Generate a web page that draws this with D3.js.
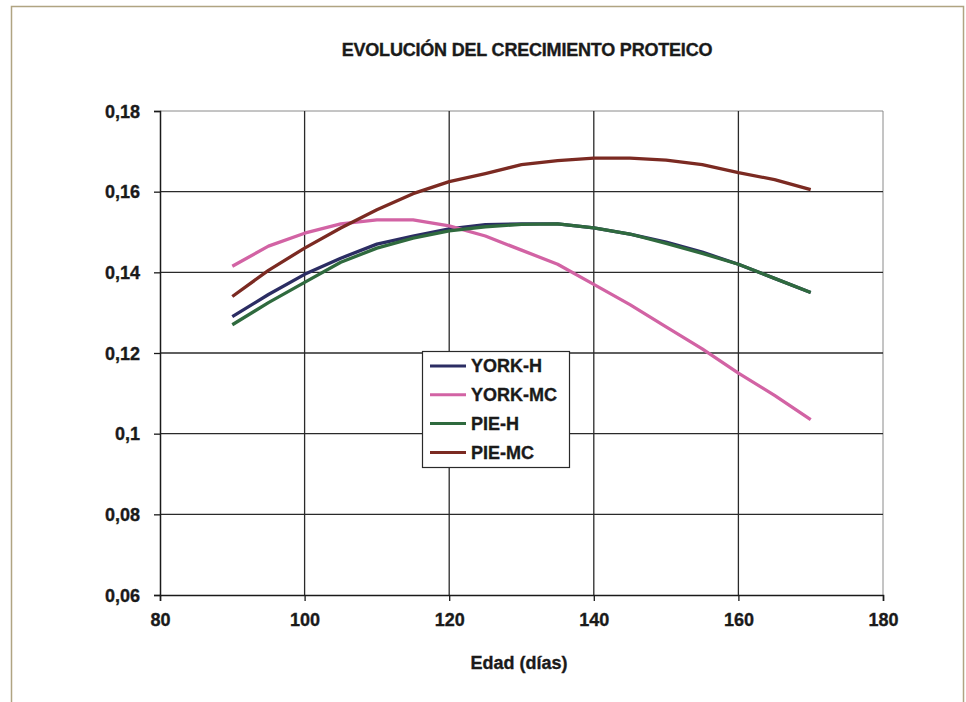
<!DOCTYPE html>
<html>
<head>
<meta charset="utf-8">
<script src="https://cdn.jsdelivr.net/npm/d3@7"></script>
<style>
  html, body { margin: 0; padding: 0; background: #fff; }
  svg text { font-family: "Liberation Sans", Arial, sans-serif; font-weight: 700; fill: #1a1a1a; stroke: #1a1a1a; stroke-width: 0.35px; }
</style>
</head>
<body>
<div id="chart"></div>
<script>
// edad en días
const days = [90, 95, 100, 105, 110, 115, 120, 125, 130, 135, 140, 145, 150, 155, 160, 165, 170];

const yorkH  = [0.129, 0.1345, 0.1395, 0.1435, 0.147, 0.149, 0.1508, 0.1518, 0.152, 0.152, 0.151, 0.1495, 0.1475, 0.145, 0.142, 0.1385, 0.135];
const yorkMC = [0.1415, 0.1465, 0.1497, 0.152, 0.153, 0.153, 0.1515, 0.149, 0.1455, 0.142, 0.137, 0.132, 0.1265, 0.121, 0.115, 0.1095, 0.1035];
const pieH   = [0.127, 0.1325, 0.1375, 0.1425, 0.146, 0.1485, 0.1503, 0.1513, 0.1519, 0.152, 0.151, 0.1495, 0.1472, 0.1447, 0.142, 0.1385, 0.135];
const pieMC  = [0.134, 0.1405, 0.146, 0.151, 0.1555, 0.1595, 0.1625, 0.1645, 0.1667, 0.1677, 0.1683, 0.1683, 0.1678, 0.1667, 0.1647, 0.163, 0.1605];

const seriesNames = ["YORK-H", "YORK-MC", "PIE-H", "PIE-MC"];
const seriesValues = [yorkH, yorkMC, pieH, pieMC];

const xTicks = [80, 100, 120, 140, 160, 180];
const yTicks = [0.06, 0.08, 0.1, 0.12, 0.14, 0.16, 0.18];
const yTickLabels = ["0,06", "0,08", "0,1", "0,12", "0,14", "0,16", "0,18"];

const width = 966, height = 702;
const margin = { top: 111, right: 83, bottom: 107, left: 160 };

const svg = d3.select("#chart").append("svg")
    .attr("width", width)
    .attr("height", height);

// marco exterior
svg.append("rect")
    .attr("x", 11.5).attr("y", 6.5)
    .attr("width", 952).attr("height", 700)
    .attr("fill", "none")
    .attr("stroke", "#b0a482")
    .attr("stroke-width", 1.5);

const x = d3.scaleLinear().domain([80, 180]).range([margin.left, width - margin.right]);
const y = d3.scaleLinear().domain([0.06, 0.18]).range([height - margin.bottom, margin.top]);

const color = d3.scaleOrdinal()
    .domain(seriesNames)
    .range(["#2b2d63", "#d263a4", "#2f6a3e", "#7b2a22"]);

// borde superior y derecho gris
svg.append("path")
    .attr("d", `M${x(80)},${y(0.18)}H${x(180)}V${y(0.06)}`)
    .attr("fill", "none")
    .attr("stroke", "#8a8a8a")
    .attr("stroke-width", 1);

// rejilla
const grid = svg.append("g");
grid.selectAll("line.h")
    .data(yTicks.filter(d => d > 0.06 && d < 0.18))
    .enter().append("line")
    .attr("x1", x(80)).attr("x2", x(180))
    .attr("y1", d => y(d)).attr("y2", d => y(d))
    .attr("stroke", "#2a2a2a")
    .attr("stroke-width", 1.3);
grid.selectAll("line.v")
    .data(xTicks.filter(d => d > 80 && d < 180))
    .enter().append("line")
    .attr("x1", d => x(d)).attr("x2", d => x(d))
    .attr("y1", y(0.18)).attr("y2", y(0.06))
    .attr("stroke", "#2a2a2a")
    .attr("stroke-width", 1.3);

// ejes
const xAxis = svg.append("g")
    .attr("transform", `translate(0, ${y(0.06)})`)
    .call(d3.axisBottom(x).tickValues(xTicks).tickSize(6).tickPadding(12).tickFormat(d3.format("d")));
const yAxis = svg.append("g")
    .attr("transform", `translate(${x(80)}, 0)`)
    .call(d3.axisLeft(y).tickValues(yTicks).tickSize(6).tickPadding(14)
        .tickFormat((d, i) => yTickLabels[i]));

[xAxis, yAxis].forEach(a => {
    a.select(".domain").attr("stroke", "#1a1a1a").attr("stroke-width", 1.5);
    a.selectAll(".tick line").attr("stroke", "#1a1a1a").attr("stroke-width", 1.3);
    a.selectAll(".tick text").attr("font-size", "18px").attr("fill", "#1a1a1a");
});
yAxis.selectAll(".tick text").attr("dy", "0.35em");

// líneas
const line = d3.line()
    .x((d, i) => x(days[i]))
    .y(d => y(d));

svg.selectAll("path.serie")
    .data(seriesNames)
    .enter().append("path")
    .attr("class", "serie")
    .attr("d", (d, i) => line(seriesValues[i]))
    .attr("fill", "none")
    .attr("stroke", d => color(d))
    .attr("stroke-width", 3.3)
    .attr("stroke-linejoin", "round");

// título
svg.append("text")
    .attr("x", 527).attr("y", 56)
    .attr("text-anchor", "middle")
    .attr("font-size", "18px")
    .style("letter-spacing", "-0.2px")
    .text("EVOLUCIÓN DEL CRECIMIENTO PROTEICO");

// título eje x
svg.append("text")
    .attr("x", 519).attr("y", 669)
    .attr("text-anchor", "middle")
    .attr("font-size", "18px")
    .text("Edad (días)");

// leyenda
const legend = svg.append("g").attr("transform", "translate(422, 351)");
legend.append("rect")
    .attr("x", 0.5).attr("y", 0.5)
    .attr("width", 147).attr("height", 116)
    .attr("fill", "#fff")
    .attr("stroke", "#2a2a2a")
    .attr("stroke-width", 1.2);

const item = legend.selectAll("g.item")
    .data(seriesNames)
    .enter().append("g")
    .attr("class", "item")
    .attr("transform", (d, i) => `translate(0, ${15 + i * 28.8})`);

item.append("line")
    .attr("x1", 8).attr("x2", 44)
    .attr("y1", 0).attr("y2", 0)
    .attr("stroke", d => color(d))
    .attr("stroke-width", 3);

item.append("text")
    .attr("x", 49).attr("y", 0)
    .attr("dy", "0.35em")
    .attr("font-size", "18px")
    .text(d => d);
</script>
</body>
</html>
